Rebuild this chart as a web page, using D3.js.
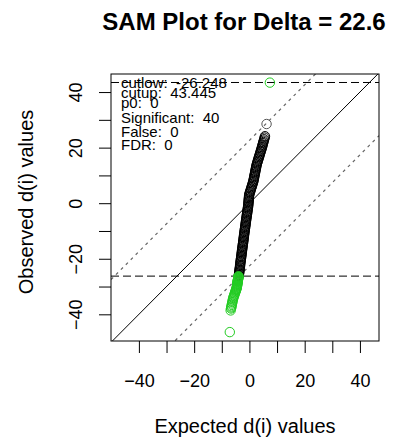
<!DOCTYPE html>
<html><head><meta charset="utf-8">
<script src="https://cdn.jsdelivr.net/npm/d3@7"></script>
<style>body{margin:0;background:#fff}svg{display:block}text{font-family:"Liberation Sans",Arial,sans-serif}</style>
</head><body>
<script>
// ---- data ----
const delta = 22.6;
const cutlow = -26.248;
const cutup = 43.445;
const legendLines = ["cutlow:  -26.248", "cutup:  43.445", "p0:  0", "Significant:  40", "False:  0", "FDR:  0"];
const xTicks = [-40,-30,-20,-10,0,10,20,30,40];
const yTicks = [-40,-30,-20,-10,0,10,20,30,40];
const labeledTicks = [-40,-20,0,20,40];

// non-significant genes (expected, observed)
const blackExpected = [-3.85,-3.80,-3.74,-3.69,-3.64,-3.58,-3.53,-3.46,-3.40,-3.35,-3.29,-3.23,
 -3.17,-3.11,-3.05,-2.99,-2.93,-2.87,-2.81,-2.75,-2.69,-2.63,-2.57,-2.51,-2.45,-2.39,-2.33,-2.27,-2.21,-2.15,-2.09,-2.03,-1.97,-1.91,-1.85,-1.79,-1.73,-1.67,-1.61,
 -1.54,-1.49,-1.41,-1.36,-1.29,-1.23,-1.16,-1.10,-1.03,-0.97,-0.90,-0.84,-0.77,-0.71,-0.64,-0.59,-0.51,-0.46,-0.39,
 -0.36,-0.32,-0.28,-0.24,-0.21,-0.17,-0.13,
 -0.07,0.06,0.21,0.34,0.49,0.62,0.78,0.90,1.06,1.18,1.34,
 1.44,1.54,1.62,1.72,1.80,1.90,1.98,2.08,2.16,2.26,2.34,2.44,2.52,
 2.63,2.75,2.91,3.03,3.18,3.30,3.46,3.58,3.73,3.86,4.01,4.13,4.29,4.41,
 4.56,4.69,4.80,4.94,5.05,5.19,5.33,5.49,5.63,6.20];
const blackObserved = [-26.2,-25.8,-25.3,-24.9,-24.5,-24.0,-23.6,-23.1,-22.6,-22.2,-21.7,-21.2,
 -20.8,-20.3,-19.9,-19.4,-19.0,-18.5,-18.1,-17.6,-17.2,-16.7,-16.3,-15.8,-15.4,-14.9,-14.5,-14.0,-13.6,-13.1,-12.7,-12.2,-11.8,-11.3,-10.9,-10.4,-10.0,-9.5,-9.1,
 -8.6,-8.2,-7.7,-7.3,-6.8,-6.4,-5.9,-5.5,-5.0,-4.6,-4.1,-3.7,-3.2,-2.8,-2.3,-1.9,-1.4,-1.0,-0.5,
 -0.1,0.4,0.8,1.3,1.7,2.2,2.6,
 3.1,3.5,4.0,4.4,4.9,5.3,5.8,6.2,6.7,7.1,7.6,
 8.0,8.5,8.9,9.4,9.8,10.3,10.7,11.2,11.6,12.1,12.5,13.0,13.4,
 13.9,14.3,14.8,15.2,15.7,16.1,16.6,17.0,17.5,17.9,18.4,18.8,19.3,19.7,
 20.2,20.7,21.1,21.6,22.0,22.5,23.0,23.6,24.1,28.5];

// significant genes (expected, observed)
const greenExpected = [7.4,
 -3.95,-3.98,-4.01,-4.04,-4.07,-4.10,-4.13,-4.17,-4.20,-4.23,-4.26,-4.31,-4.35,-4.38,-4.43,-4.48,-4.52,-4.57,-4.63,-4.73,
 -4.84,-4.94,-5.05,-5.15,-5.29,-5.43,-5.57,-5.71,-5.85,-5.98,-6.08,-6.18,-6.28,-6.38,-6.49,-6.57,-6.65,-6.80,-7.10];
const greenObserved = [43.4,
 -26.3,-26.5,-26.7,-26.9,-27.1,-27.3,-27.5,-27.7,-27.9,-28.1,-28.3,-28.6,-28.9,-29.1,-29.4,-29.7,-30.0,-30.3,-30.6,-30.9,
 -31.2,-31.5,-31.8,-32.1,-32.5,-32.9,-33.3,-33.7,-34.1,-34.6,-35.1,-35.6,-36.1,-36.6,-37.1,-37.5,-37.9,-38.6,-46.4];

// ---- drawing ----
const W = 393, H = 441;
const L = 111, R = 379, T = 74, B = 341;
const svg = d3.select("body").append("svg").attr("width", W).attr("height", H);

const x = d3.scaleLinear().domain([-50.1, 46.9]).range([L, R]);
const y = d3.scaleLinear().domain([-49.6, 46.5]).range([B, T]);

svg.append("clipPath").attr("id", "clip").append("rect")
  .attr("x", L).attr("y", T).attr("width", R - L).attr("height", B - T);
const plot = svg.append("g").attr("clip-path", "url(#clip)");

const xd = x.domain();
function diag(off) {
  return [[xd[0], xd[0] + off], [xd[1], xd[1] + off]];
}
const line = d3.line().x(d => x(d[0])).y(d => y(d[1]));
plot.append("path").attr("d", line(diag(0))).attr("stroke", "#000").attr("stroke-width", 1).attr("fill", "none");
plot.append("path").attr("d", line(diag(delta))).attr("stroke", "#666").attr("stroke-width", 1.2).attr("stroke-dasharray", "3,4").attr("fill", "none");
plot.append("path").attr("d", line(diag(-delta))).attr("stroke", "#666").attr("stroke-width", 1.2).attr("stroke-dasharray", "3,4").attr("fill", "none");
[cutup, cutlow].forEach(c => {
  plot.append("line").attr("x1", L).attr("x2", R).attr("y1", y(c)).attr("y2", y(c))
    .attr("stroke", "#000").attr("stroke-width", 1).attr("stroke-dasharray", "8,4");
});

const blackPts = blackExpected.map((e, i) => [e, blackObserved[i]]);
const greenPts = greenExpected.map((e, i) => [e, greenObserved[i]]);
plot.selectAll("circle.b").data(blackPts).enter().append("circle").attr("class", "b")
  .attr("cx", d => x(d[0])).attr("cy", d => y(d[1])).attr("r", 4.7)
  .attr("fill", "none").attr("stroke", (d, i) => i === blackPts.length - 1 ? "#555" : "#000").attr("stroke-width", 1);
plot.selectAll("circle.g").data(greenPts).enter().append("circle").attr("class", "g")
  .attr("cx", d => x(d[0])).attr("cy", d => y(d[1])).attr("r", 4.7)
  .attr("fill", "none").attr("stroke", "#22cc22").attr("stroke-width", 1);

// box
svg.append("rect").attr("x", L).attr("y", T).attr("width", R - L).attr("height", B - T)
  .attr("fill", "none").attr("stroke", "#000").attr("stroke-width", 1);

const fmt = d => labeledTicks.includes(d) ? d3.format("d")(d) : "";
// x axis
const gx = svg.append("g").attr("transform", `translate(0,${B})`)
  .call(d3.axisBottom(x).tickValues(xTicks).tickFormat(fmt).tickSize(12).tickSizeOuter(0));
gx.select(".domain").remove();
gx.selectAll("line").attr("stroke", "#000");
gx.selectAll("text").attr("y", 0).attr("dy", 0).attr("transform", "translate(0,45.5)")
  .attr("font-size", 18).attr("fill", "#000").attr("font-family", "Liberation Sans, Arial, sans-serif");

// y axis
const gy = svg.append("g").attr("transform", `translate(${L},0)`)
  .call(d3.axisLeft(y).tickValues(yTicks).tickFormat(fmt).tickSize(12).tickSizeOuter(0));
gy.select(".domain").remove();
gy.selectAll("line").attr("stroke", "#000");
gy.selectAll("text").attr("x", 0).attr("y", 0).attr("dy", 0)
  .attr("transform", "translate(-29,0) rotate(-90)").attr("text-anchor", "middle")
  .attr("font-size", 18).attr("fill", "#000").attr("font-family", "Liberation Sans, Arial, sans-serif");

// legend
const legendY = [88, 98.3, 108.3, 123.3, 137.3, 150];
svg.selectAll("text.leg").data(legendLines).enter().append("text").attr("class", "leg")
  .attr("x", 121).attr("y", (d, i) => legendY[i]).attr("font-size", 15).attr("fill", "#000")
  .style("white-space", "pre").attr("xml:space", "preserve").text(d => d);

// title
svg.append("text").attr("x", 244).attr("y", 30).attr("text-anchor", "middle")
  .attr("font-size", 24).attr("font-weight", "bold").attr("fill", "#000").text("SAM Plot for Delta = 22.6");
// axis labels
svg.append("text").attr("x", 245).attr("y", 433).attr("text-anchor", "middle")
  .attr("font-size", 20).attr("fill", "#000").text("Expected d(i) values");
svg.append("text").attr("transform", "translate(33,202) rotate(-90)").attr("text-anchor", "middle")
  .attr("font-size", 20).attr("fill", "#000").text("Observed d(i) values");
</script>
</body></html>
